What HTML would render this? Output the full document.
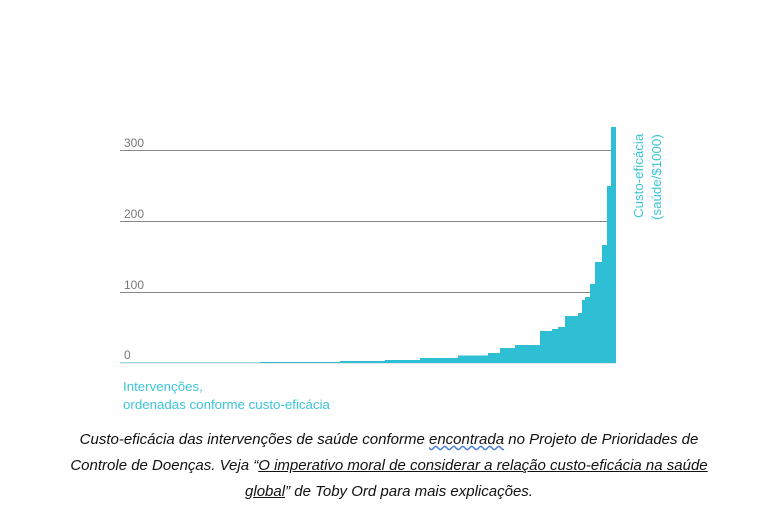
<!DOCTYPE html>
<html><head><meta charset="utf-8"><style>
body{margin:0;background:#fff;width:778px;height:525px;overflow:hidden;position:relative;font-family:"Liberation Sans",sans-serif}
.cap{position:absolute;left:0;width:778px;text-align:center;font-style:italic;font-size:15px;color:#111}
</style></head><body>
<svg width="778" height="525" style="position:absolute;left:0;top:0">
<line x1="120" y1="150.5" x2="612" y2="150.5" stroke="#888" stroke-width="1"/>
<line x1="120" y1="221.5" x2="612" y2="221.5" stroke="#888" stroke-width="1"/>
<line x1="120" y1="292.5" x2="612" y2="292.5" stroke="#888" stroke-width="1"/>
<line x1="120" y1="363" x2="616" y2="363" stroke="#ccc" stroke-width="1"/>
<polygon fill="#2ebfd4" points="120,363 120,362.5 260,362.5 260,362 340,362 340,361 385,361 385,360 420,360 420,358 458,358 458,355.5 488,355.5 488,353 500,353 500,348 515,348 515,345 540,345 540,331 552,331 552,329 558,329 558,327 565,327 565,316 578,316 578,313 582,313 582,300 585,300 585,297 590,297 590,284 595,284 595,262 602,262 602,245 607,245 607,186 611,186 611,127 616,127 616,363"/>
<g font-family="Liberation Sans, sans-serif" font-size="12" fill="#777">
<text x="124" y="147">300</text>
<text x="124" y="218">200</text>
<text x="124" y="289">100</text>
<text x="124" y="359">0</text>
</g>
<g font-family="Liberation Sans, sans-serif" font-size="13.3" fill="#3cc4d8">
<text transform="translate(643,218) rotate(-90)">Custo-eficácia</text>
<text transform="translate(661,220) rotate(-90)">(saúde/$1000)</text>
<text x="123" y="391">Intervenções,</text>
<text x="123" y="409">ordenadas conforme custo-eficácia</text>
</g>
</svg>
<div class="cap" style="top:431px">Custo-eficácia das intervenções de saúde conforme <span style="text-decoration:underline wavy #4a7fd8">encontrada</span> no Projeto de Prioridades de</div>
<div class="cap" style="top:457px">Controle de Doenças. Veja “<u>O imperativo moral de considerar a relação custo-eficácia na saúde</u></div>
<div class="cap" style="top:483px"><u>global</u>” de Toby Ord para mais explicações.</div>
</body></html>
